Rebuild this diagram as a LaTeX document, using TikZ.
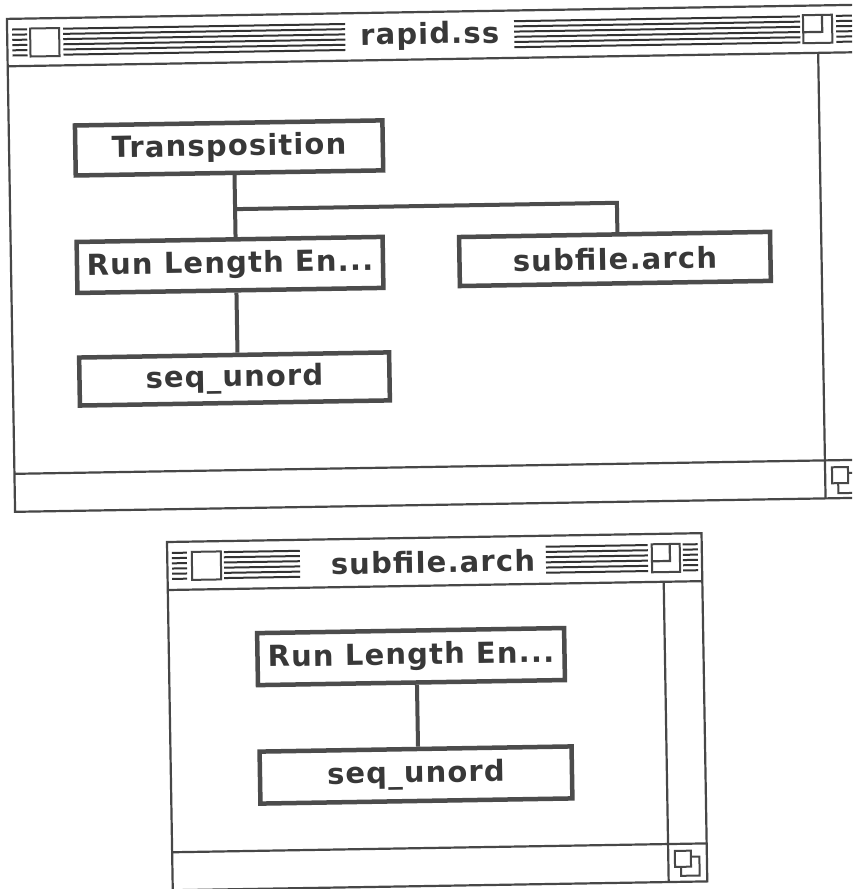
\documentclass[tikz,border=0pt]{standalone}
\usepackage{fontspec}
\setmainfont{DejaVu Sans}
\begin{document}
\begin{tikzpicture}[x=1pt,y=-1pt,
  win/.style={draw=black!72, line width=2.2pt},
  stripe/.style={draw=black!80, line width=2pt},
  macfont/.style={font=\bfseries\fontsize{29}{32}\selectfont\addfontfeature{LetterSpace=4}, text=black!78},
  boxnode/.style={draw=black!70, line width=4.5pt, fill=white, inner sep=0pt, macfont},
  conn/.style={draw=black!70, line width=4pt},
  titletext/.style={inner sep=0pt, macfont},
  smallbox/.style={draw=black!72, line width=2pt, fill=white}
]
\useasboundingbox (0,0) rectangle (852,889);
\clip (0,0) rectangle (852,889);
\begin{scope}[rotate around={0.95:(426,444)}, transform shape]
% ---------------- top window ----------------
\draw[win, fill=white] (14,12) rectangle (864,505);
\draw[win] (14,59.4) -- (864,59.4);
\draw[win] (824.6,59.4) -- (824.6,505);
\draw[win] (14,467) -- (864,467);
\foreach \k in {0,...,5}{
  \pgfmathsetmacro{\yy}{22.7+5.2*\k}
  \draw[stripe] (19,\yy) -- (34,\yy);
  \draw[stripe] (70,\yy) -- (352,\yy);
  \draw[stripe] (521,\yy) -- (807,\yy);
  \draw[stripe] (843,\yy) -- (859,\yy);
}
\node[titletext] (t1) at (436.5,36) {rapid.ss};
\draw[smallbox] (37,22) rectangle (66,50);
\draw[smallbox] (810,21.5) rectangle (839,49.5);
\draw[win] (810,38.5) -- (829,38.5) -- (829,21.5);
% grow box
\draw[smallbox] (837.5,480) rectangle (858,500);
\draw[smallbox] (831.5,474) rectangle (847.5,490);

% nodes
\node[boxnode, minimum width=307.5pt, minimum height=50pt] (trans) at (234,144.7) {Transposition};
\node[boxnode, minimum width=306pt, minimum height=51pt] (rle) at (233,261.7) {Run Length En...};
\node[boxnode, minimum width=310pt, minimum height=48pt] (seq) at (235.6,375.8) {seq\_unord};
\node[boxnode, minimum width=311pt, minimum height=49pt] (sub) at (618,262.1) {subfile.arch};

\coordinate (trunk) at (239,206);
\coordinate (drop) at (620.9,206);
\draw[conn] (trunk |- trans.south) -- (trunk |- rle.north);
\draw[conn] (trunk) -- (drop) -- (drop |- sub.north);
\draw[conn] (trunk |- rle.south) -- (trunk |- seq.north);

% ---------------- bottom window ----------------
\draw[win, fill=white] (165.4,537.7) rectangle (700,886);
\draw[win] (165.4,585.7) -- (700,585.7);
\draw[win] (661.4,585.7) -- (661.4,886);
\draw[win] (165.4,848) -- (700,848);
\foreach \k in {0,...,5}{
  \pgfmathsetmacro{\yy}{548.7+5.2*\k}
  \draw[stripe] (170,\yy) -- (185,\yy);
  \draw[stripe] (222,\yy) -- (298,\yy);
  \draw[stripe] (544,\yy) -- (646,\yy);
  \draw[stripe] (681,\yy) -- (696,\yy);
}
\node[titletext] (t2) at (431,562) {subfile.arch};
\draw[smallbox] (190,548) rectangle (219,576);
\draw[smallbox] (650,548) rectangle (678,576);
\draw[win] (650,565) -- (668,565) -- (668,548);
% grow box
\draw[smallbox] (674,861) rectangle (692.5,880);
\draw[smallbox] (668,855) rectangle (684,871);

\node[boxnode, minimum width=307pt, minimum height=52pt] (rle2) at (407.5,656.3) {Run Length En...};
\node[boxnode, minimum width=312pt, minimum height=52pt] (seq2) at (410.5,774.8) {seq\_unord};
\coordinate (trunk2) at (413,700);
\draw[conn] (trunk2 |- rle2.south) -- (trunk2 |- seq2.north);
\end{scope}
\end{tikzpicture}
\end{document}
